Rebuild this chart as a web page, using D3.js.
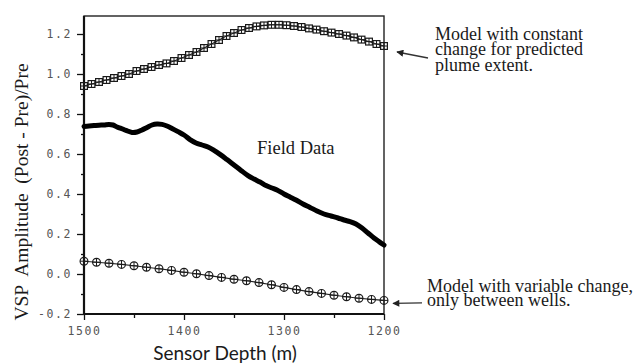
<!DOCTYPE html>
<html>
<head>
<meta charset="utf-8">
<script src="https://cdn.jsdelivr.net/npm/d3@7"></script>
<style>
  body { margin: 0; background: #fff; }
  .tick text { font-family: "DejaVu Sans Mono", monospace; font-size: 11.5px; fill: #555; letter-spacing: 1.6px; }
  .note { font-family: "Liberation Serif", "Times New Roman", serif; fill: #1a1a1a; }
</style>
</head>
<body>
<script>
// Размеры и поля
const W = 636, H = 364;
const margin = { top: 16, right: 252, bottom: 50, left: 84 };
const width = W - margin.left - margin.right;
const height = H - margin.top - margin.bottom;

// Модель с постоянным изменением (квадраты)
const constDepth = [1500, 1492.5, 1485, 1477.5, 1470, 1462.5, 1455, 1447.5, 1440, 1432.5,
  1425, 1417.5, 1410, 1402.5, 1395, 1387.5, 1380, 1372.5, 1365, 1357.5,
  1350, 1342.5, 1335, 1327.5, 1320, 1312.5, 1305, 1297.5, 1290, 1282.5,
  1275, 1267.5, 1260, 1252.5, 1245, 1237.5, 1230, 1222.5, 1215, 1207.5, 1200];
const constAmp = [0.94, 0.95, 0.96, 0.97, 0.98, 0.99, 1.0, 1.015, 1.025, 1.035,
  1.045, 1.053, 1.065, 1.08, 1.095, 1.11, 1.13, 1.15, 1.17, 1.19,
  1.205, 1.22, 1.23, 1.238, 1.243, 1.246, 1.246, 1.244, 1.24, 1.235,
  1.228, 1.222, 1.214, 1.207, 1.2, 1.192, 1.183, 1.172, 1.162, 1.15, 1.14];

// Модель с переменным изменением (кружки)
const varDepth = [1500, 1487.5, 1475, 1462.5, 1450, 1437.5, 1425, 1412.5, 1400, 1387.5,
  1375, 1362.5, 1350, 1337.5, 1325, 1312.5, 1300, 1287.5, 1275, 1262.5,
  1250, 1237.5, 1225, 1212.5, 1200];
const varAmp = [0.064, 0.059, 0.054, 0.048, 0.041, 0.034, 0.026, 0.018, 0.009, 0.001,
  -0.008, -0.017, -0.026, -0.034, -0.043, -0.054, -0.067, -0.078, -0.088, -0.097,
  -0.106, -0.114, -0.121, -0.127, -0.132];

// Полевые данные
const fieldDepth = [1500, 1495, 1490, 1485, 1480, 1475, 1471, 1467, 1463, 1458,
  1452, 1447, 1442, 1437, 1432, 1427, 1422, 1417, 1412, 1406,
  1400, 1394, 1388, 1382, 1376, 1370, 1364, 1357, 1350, 1343,
  1336, 1330, 1324, 1318, 1312, 1307, 1300, 1294, 1288, 1281,
  1274, 1267, 1260, 1253, 1246, 1240, 1234, 1228, 1222, 1216,
  1210, 1205, 1200];
const fieldAmp = [0.738, 0.74, 0.742, 0.744, 0.745, 0.748, 0.745, 0.735, 0.728, 0.718,
  0.708, 0.71, 0.72, 0.733, 0.745, 0.75, 0.748, 0.74, 0.728, 0.712,
  0.695, 0.672, 0.655, 0.645, 0.635, 0.618, 0.598, 0.572, 0.545, 0.518,
  0.492, 0.475, 0.46, 0.442, 0.43, 0.42, 0.4, 0.385, 0.37, 0.35,
  0.333, 0.315, 0.3, 0.29, 0.28, 0.27, 0.262, 0.25, 0.23, 0.205,
  0.18, 0.162, 0.145];

// Деления осей
const xMajor = [1500, 1400, 1300, 1200];
const xMinor = [1450, 1350, 1250];
const yMajor = [-0.2, 0.0, 0.2, 0.4, 0.6, 0.8, 1.0, 1.2];
const yMinor = [-0.1, 0.1, 0.3, 0.5, 0.7, 0.9, 1.1];

const svg = d3.select("body").append("svg")
  .attr("width", W)
  .attr("height", H);

const g = svg.append("g")
  .attr("transform", `translate(${margin.left},${margin.top})`);

const x = d3.scaleLinear().domain([1500, 1200]).range([0, width]);
const y = d3.scaleLinear().domain([-0.2, 1.29]).range([height, 0]);

// Оси
g.append("g")
  .call(d3.axisLeft(y).tickValues(yMajor).tickSize(7).tickPadding(5).tickFormat(d => d.toFixed(1)));
g.append("g")
  .call(d3.axisLeft(y).tickValues(yMinor).tickSize(3).tickFormat(""));
g.append("g")
  .attr("transform", `translate(0,${height})`)
  .call(d3.axisBottom(x).tickValues(xMajor).tickSize(6).tickPadding(7).tickFormat(d3.format("d")));
g.append("g")
  .attr("transform", `translate(0,${height})`)
  .call(d3.axisBottom(x).tickValues(xMinor).tickSize(4).tickFormat(""));

g.selectAll(".domain").remove();
g.selectAll(".tick line").attr("stroke", "#111").attr("stroke-width", 1.3);

// Рамка
g.append("rect")
  .attr("width", width).attr("height", height)
  .attr("fill", "none").attr("stroke", "#222").attr("stroke-width", 1.4);
g.append("line").attr("x1", 0).attr("x2", 0).attr("y1", 0).attr("y2", height)
  .attr("stroke", "#111").attr("stroke-width", 2.2);
g.append("line").attr("x1", 0).attr("x2", width).attr("y1", height).attr("y2", height)
  .attr("stroke", "#111").attr("stroke-width", 2.2);

// Полевые данные
const fieldPts = fieldDepth.map((d, i) => [d, fieldAmp[i]]);
g.append("path")
  .datum(fieldPts)
  .attr("fill", "none")
  .attr("stroke", "#000")
  .attr("stroke-width", 5)
  .attr("stroke-linejoin", "round")
  .attr("stroke-linecap", "round")
  .attr("d", d3.line().x(d => x(d[0])).y(d => y(d[1])).curve(d3.curveCatmullRom));

// Модель с постоянным изменением
const constPts = constDepth.map((d, i) => [d, constAmp[i]]);
g.append("path")
  .datum(constPts)
  .attr("fill", "none").attr("stroke", "#222").attr("stroke-width", 1.1)
  .attr("d", d3.line().x(d => x(d[0])).y(d => y(d[1])));
const sq = g.append("g").selectAll("g")
  .data(constPts).enter().append("g")
  .attr("transform", d => `translate(${x(d[0])},${y(d[1])})`);
sq.append("rect")
  .attr("x", -3.4).attr("y", -3.4).attr("width", 6.8).attr("height", 6.8)
  .attr("fill", "none").attr("stroke", "#1a1a1a").attr("stroke-width", 1.2);
sq.append("path").attr("d", "M-3.4,0H3.4M0,-3.4V3.4")
  .attr("stroke", "#1a1a1a").attr("stroke-width", 1);

// Модель с переменным изменением
const varPts = varDepth.map((d, i) => [d, varAmp[i]]);
g.append("path")
  .datum(varPts)
  .attr("fill", "none").attr("stroke", "#222").attr("stroke-width", 1.1)
  .attr("d", d3.line().x(d => x(d[0])).y(d => y(d[1])));
const ci = g.append("g").selectAll("g")
  .data(varPts).enter().append("g")
  .attr("transform", d => `translate(${x(d[0])},${y(d[1])})`);
ci.append("circle").attr("r", 3.9)
  .attr("fill", "none").attr("stroke", "#1a1a1a").attr("stroke-width", 1.2);
ci.append("path").attr("d", "M-3.9,0H3.9M0,-3.9V3.9")
  .attr("stroke", "#1a1a1a").attr("stroke-width", 1);

// Подписи осей
svg.append("text")
  .attr("x", margin.left + width / 2 - 9)
  .attr("y", 360)
  .attr("text-anchor", "middle")
  .attr("font-family", "Lato, 'Open Sans', sans-serif")
  .attr("font-size", 19)
  .attr("fill", "#1a1a1a")
  .text("Sensor Depth (m)");

svg.append("text")
  .attr("transform", `translate(28,${192}) rotate(-90)`)
  .attr("text-anchor", "middle")
  .attr("class", "note")
  .attr("font-size", 19.5)
  .attr("xml:space", "preserve")
  .style("white-space", "pre")
  .text("VSP  Amplitude  (Post - Pre)/Pre");

// Подпись полевых данных
g.append("text")
  .attr("class", "note")
  .attr("x", x(1327)).attr("y", y(0.6))
  .attr("font-size", 18.5)
  .text("Field Data");

// Стрелки и пояснения
svg.append("defs").append("marker")
  .attr("id", "ah").attr("viewBox", "0 0 10 10")
  .attr("refX", 9).attr("refY", 5)
  .attr("markerWidth", 9).attr("markerHeight", 7)
  .attr("markerUnits", "userSpaceOnUse")
  .attr("orient", "auto")
  .append("path").attr("d", "M0,0L10,5L0,10Z").attr("fill", "#222");

function note(tipX, tipY, tailX, tailY, tx, ty, lines, lh) {
  svg.append("line")
    .attr("x1", tailX).attr("y1", tailY).attr("x2", tipX).attr("y2", tipY)
    .attr("stroke", "#333").attr("stroke-width", 1.3)
    .attr("marker-end", "url(#ah)");
  const t = svg.append("text").attr("class", "note").attr("font-size", 18);
  lines.forEach((s, i) => {
    t.append("tspan").attr("x", tx).attr("y", ty + i * lh).text(s);
  });
}

const endX = margin.left + x(1200);
const lastConst = margin.top + y(constAmp[constAmp.length - 1]);
const lastVar = margin.top + y(varAmp[varAmp.length - 1]);
note(endX + 13, lastConst + 6, endX + 44, lastConst + 12,
  435, 39.5, ["Model with constant", "change for predicted", "plume extent."], 15.5);
note(endX + 9, lastVar + 3, endX + 38, lastVar + 2.5,
  427, 292, ["Model with variable change,", "only between wells."], 13.5);
</script>
</body>
</html>
